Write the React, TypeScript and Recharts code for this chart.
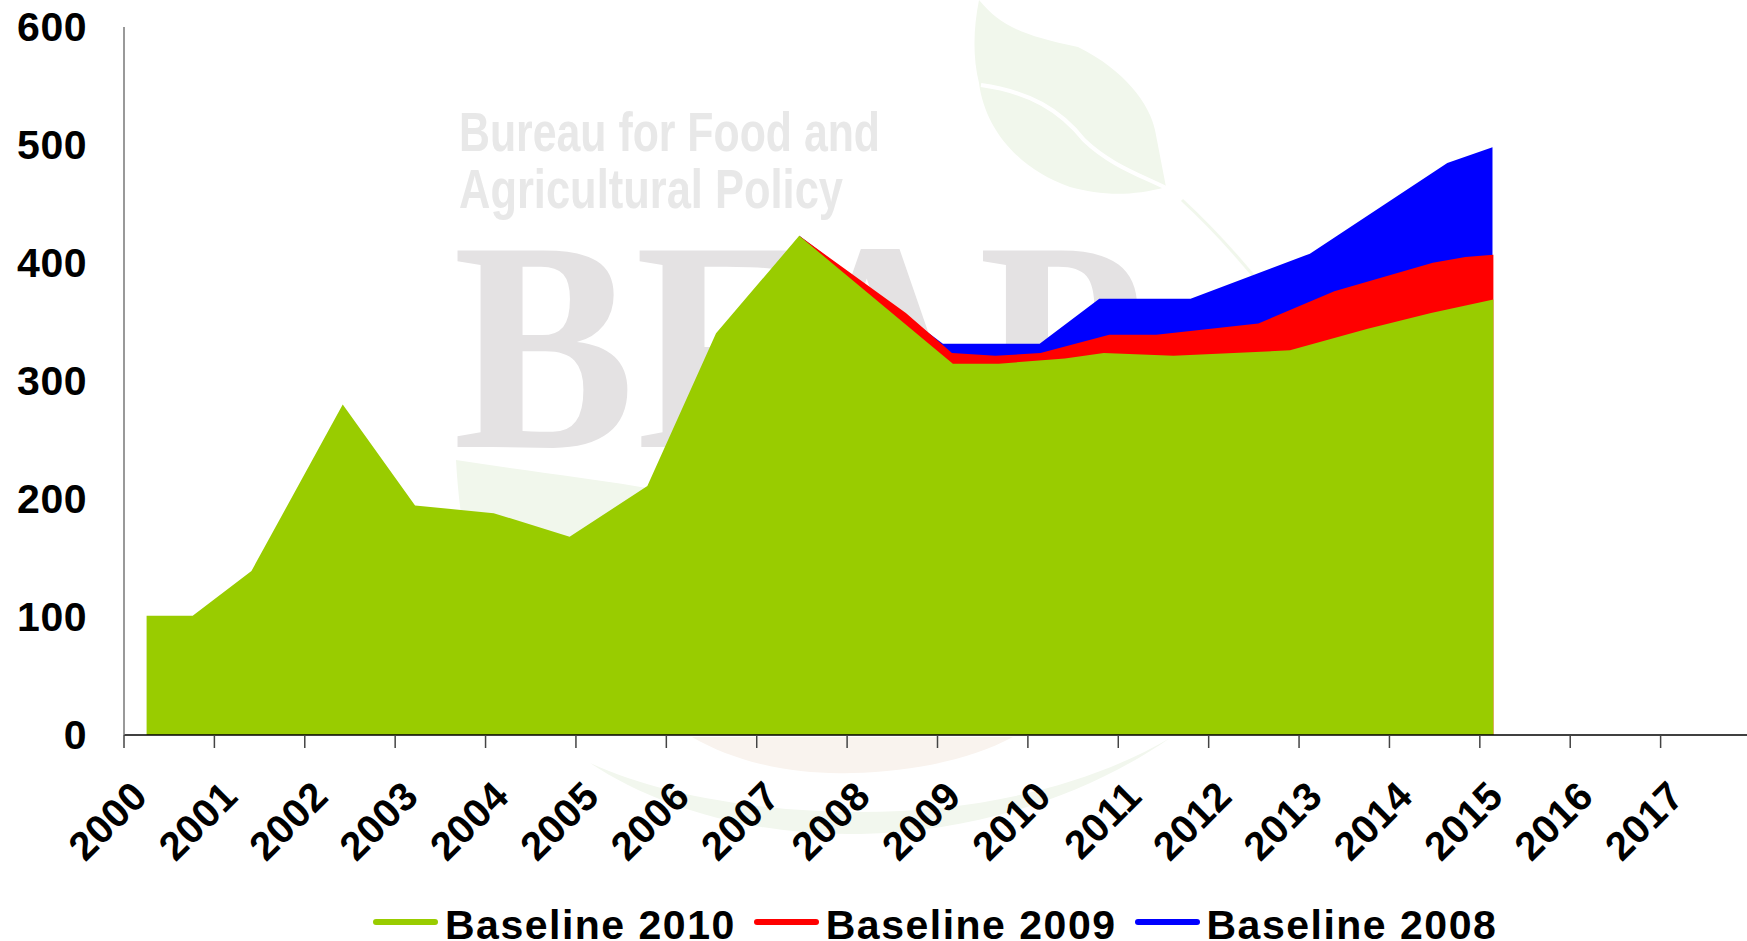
import { Area, AreaChart, Legend, XAxis, YAxis } from "recharts";

const font = "'Liberation Sans', Arial, sans-serif";

// x is a fractional year position, the source chart's vertices do not sit on the year ticks
const baseline2010X = [2000.25, 2000.76, 2001.41, 2002.42, 2003.22, 2004.09, 2004.93, 2005.79, 2006.55, 2007.47, 2009.17, 2009.68, 2010.41, 2010.84, 2011.61, 2012.9, 2013.76, 2014.46, 2015.15];
const baseline2010Y = [101, 101, 139, 280, 194.5, 188, 168, 211, 340.5, 423, 314.7, 314.7, 319, 323.7, 321.4, 326, 344.3, 357.6, 369];
const baseline2009X = [2007.47, 2008.65, 2009.16, 2009.64, 2010.14, 2010.9, 2011.42, 2012.55, 2013.39, 2014.48, 2014.84, 2015.15];
const baseline2009Y = [423, 357.6, 323.7, 321.4, 323.7, 339.2, 339.2, 348.8, 376, 400.2, 405, 407];
const baseline2008X = [2007.47, 2009.06, 2010.13, 2010.79, 2011.8, 2013.12, 2014.64, 2015.14];
const baseline2008Y = [423, 331.6, 331.6, 369.7, 369.7, 407.9, 484.7, 498];

const yearTicks = [2000, 2001, 2002, 2003, 2004, 2005, 2006, 2007, 2008, 2009, 2010, 2011, 2012, 2013, 2014, 2015, 2016, 2017];
const valueTicks = [0, 100, 200, 300, 400, 500, 600];

const toRows = (xs: number[], ys: number[]) => xs.map((x, i) => ({ x, y: ys[i] }));

function YearTick({ x, y, payload }: any) {
  return (
    <text
      transform={`translate(${x + 18},${y + 41}) rotate(-45)`}
      textAnchor="end"
      dominantBaseline="middle"
      fontFamily={font}
      fontWeight="bold"
      fontSize={40}
      letterSpacing={0.5}
      fill="#000"
    >
      {payload.value}
    </text>
  );
}

function ValueTick({ y, payload }: any) {
  return (
    <text
      x={87}
      y={y + 14}
      textAnchor="end"
      fontFamily={font}
      fontWeight="bold"
      fontSize={41}
      letterSpacing={0.5}
      fill="#000"
    >
      {payload.value}
    </text>
  );
}

const legendNames = ["Baseline 2010", "Baseline 2009", "Baseline 2008"];
const legendColors = ["#99cc00", "#ff0000", "#0000ff"];

function ChartLegend() {
  return (
    <div style={{ height: 0, display: "flex", alignItems: "flex-start", whiteSpace: "nowrap" }}>
      {legendNames.map((name, i) => (
        <div key={name} style={{ display: "flex", alignItems: "center", marginRight: 18 }}>
          <span style={{ display: "block", width: 65, height: 6, borderRadius: 3, background: legendColors[i], marginRight: 7 }} />
          <span style={{ position: "relative", top: 3, display: "block", lineHeight: "30px", fontFamily: font, fontWeight: "bold", fontSize: 41, letterSpacing: 1.5, color: "#000" }}>{name}</span>
        </div>
      ))}
    </div>
  );
}

// the faded logo sitting behind the plot
function Watermark() {
  return (
    <svg width={1747} height={941} style={{ position: "absolute", left: 0, top: 0 }}>
      <path d="M979 0 C1000 25 1020 35 1078 47 C1125 70 1150 105 1155 130 L1166 187 C1130 197 1100 195 1070 187 C1020 170 985 130 979 83 C972 55 974 25 979 0 Z" fill="#f1f7ec" />
      <path d="M981 85 C1030 92 1060 110 1084 140 C1110 165 1140 175 1166 188" fill="none" stroke="#fff" strokeWidth={4} />
      <path d="M1182 200 C1220 235 1245 265 1265 290" fill="none" stroke="#f1f7ec" strokeWidth={3} />
      <path d="M456 460 C520 470 590 478 660 490 L640 560 L470 560 C462 530 458 495 456 460 Z" fill="#f1f7ec" />
      <path d="M692 737 C740 765 800 775 852 773 C910 772 970 760 1013 737 Z" fill="#f9f3ee" />
      <path d="M590 763 C660 810 760 836 860 834 C970 832 1080 800 1170 738 C1090 785 980 812 860 812 C760 812 660 795 590 763 Z" fill="#f2f7ee" />
      <g fontFamily={font} fontWeight="bold" fontSize={56} fill="#e8e8e8">
        <text x={459} y={151} textLength={421} lengthAdjust="spacingAndGlyphs">Bureau for Food and</text>
        <text x={459} y={208} textLength={384} lengthAdjust="spacingAndGlyphs">Agricultural Policy</text>
      </g>
      <text x={453} y={447} fontFamily="'Liberation Serif', serif" fontWeight="bold" fontSize={300} fill="#e4e2e3" textLength={692} lengthAdjust="spacingAndGlyphs">BFAP</text>
    </svg>
  );
}

export default function App() {
  return (
    <div style={{ position: "absolute", left: 0, top: 0, width: 1747, height: 941, overflow: "hidden", background: "#fff" }}>
      <Watermark />
      <div style={{ position: "absolute", left: 0, top: 0 }}>
        <AreaChart width={1760} height={941} margin={{ top: 27, right: 9, bottom: 106, left: 0 }}>
          <XAxis
            dataKey="x"
            type="number"
            domain={[2000, 2018]}
            ticks={yearTicks}
            interval={0}
            allowDuplicatedCategory={false}
            height={100}
            tickLine={{ stroke: "#444", strokeWidth: 1.5 }}
            tickSize={13}
            axisLine={{ stroke: "#000", strokeWidth: 1.5 }}
            tick={<YearTick />}
          />
          <YAxis
            type="number"
            domain={[0, 600]}
            ticks={valueTicks}
            width={124}
            tickLine={false}
            axisLine={{ stroke: "#777", strokeWidth: 1.5 }}
            tick={<ValueTick />}
          />
          <Area data={toRows(baseline2008X, baseline2008Y)} dataKey="y" name="Baseline 2008" type="linear" stroke="none" fill="#0000ff" fillOpacity={1} isAnimationActive={false} />
          <Area data={toRows(baseline2009X, baseline2009Y)} dataKey="y" name="Baseline 2009" type="linear" stroke="none" fill="#ff0000" fillOpacity={1} isAnimationActive={false} />
          <Area data={toRows(baseline2010X, baseline2010Y)} dataKey="y" name="Baseline 2010" type="linear" stroke="none" fill="#99cc00" fillOpacity={1} isAnimationActive={false} />
          <Legend content={<ChartLegend />} wrapperStyle={{ left: 373, top: 907, width: 1300, height: 0 }} />
        </AreaChart>
      </div>
    </div>
  );
}
